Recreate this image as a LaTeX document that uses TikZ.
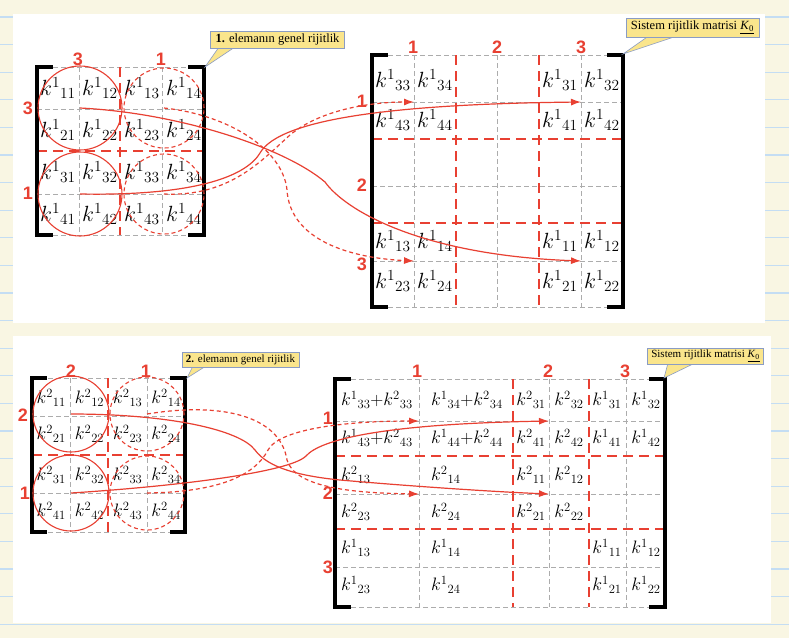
\RequirePackage{fix-cm}
\documentclass[tikz,border=0pt]{standalone}
\usepackage{fontspec}
\newfontfamily\labfont{Liberation Sans}
\newfontfamily\notefont{Liberation Serif}
\usetikzlibrary{arrows.meta}
\definecolor{kred}{RGB}{232,64,50}
\definecolor{paper}{RGB}{249,246,227}
\definecolor{ruleblue}{RGB}{196,221,243}
\definecolor{notefill}{RGB}{250,229,140}
\definecolor{noteedge}{RGB}{138,156,196}
\newcommand{\kij}[2]{k^{#1}{}_{#2}}

\begin{document}
\begin{tikzpicture}
  [x=1pt,y=-1pt,
   gridline/.style={draw=gray!65,line width=0.9pt,dash pattern=on 5pt off 3pt},
   blockline/.style={draw=kred,line width=1.8pt,dash pattern=on 10pt off 6pt},
   mbracket/.style={draw=black,line width=4pt},
   ring/.style={circle,draw=kred,line width=1.1pt,inner sep=0pt},
   dring/.style={ring,dash pattern=on 4pt off 3pt},
   entry/.style={inner sep=0pt,font=\fontsize{22}{24}\selectfont},
   sentry/.style={inner sep=0pt,font=\fontsize{18}{22}\selectfont},
   num/.style={inner sep=0pt,text=kred,font=\labfont\bfseries\fontsize{18}{18}\selectfont},
   note/.style={draw=noteedge,fill=notefill,line width=0.6pt,inner xsep=5pt,inner ysep=3pt,font=\notefont\fontsize{12.5}{14}\selectfont},
   snote/.style={note,inner xsep=4pt,inner ysep=2.5pt,font=\notefont\fontsize{11}{12}\selectfont},
   tip/.style={draw=noteedge,fill=notefill,line width=0.6pt},
   flow/.style={draw=kred,line width=1.2pt,-{Latex[length=10pt,width=7pt]}},
   dflow/.style={flow,dash pattern=on 4pt off 3pt}]

  \useasboundingbox (0,0) rectangle (789,638);
  \fill[paper] (0,0) rectangle (789,638);
  \foreach \i in {0,...,22}
    \draw[ruleblue,line width=1.2pt] (0,{17+27.6*\i}) -- (789,{17+27.6*\i});
  \fill[white] (13,14) rectangle (765,323);
  \fill[white] (13,336) rectangle (771,623);

  % element 1
  \foreach \x in {79,162} \draw[gridline] (\x,67) -- (\x,235);
  \foreach \y in {67,109,194,235} \draw[gridline] (37,\y) -- (204,\y);
  \draw[blockline] (120,67) -- (120,235);
  \draw[blockline] (37,151) -- (204,151);
  \draw[mbracket] (53,67) -- (37,67) -- (37,235) -- (53,235);
  \draw[mbracket] (188,67) -- (204,67) -- (204,235) -- (188,235);
  \foreach \i in {1,...,4}
    \foreach \j in {1,...,4}
      \node[entry] (a\i\j) at ({16+42*\j},{46+42*\i}) {$\kij{1}{\i\j}$};
  \node[ring,minimum size=84pt] (p33) at (80,108) {};
  \node[ring,minimum size=84pt] (p13) at (80,194) {};
  \node[dring,minimum size=80pt] (p31) at (164,108) {};
  \node[dring,minimum size=80pt] (p11) at (164,194) {};
  \node[num] (ea1) at (78,59) {3};
  \node[num] (ea2) at (161,59) {1};
  \node[num] (ea3) at (28,108) {3};
  \node[num] (ea4) at (28,193) {1};
  \filldraw[tip] (219,47) -- (205,67) -- (235,47);
  \node[note] (note1) at (277.5,39.5) {\textbf{1.} elemanın genel rijitlik};

  % system 1
  \foreach \x in {414,497,581} \draw[gridline] (\x,55) -- (\x,307);
  \foreach \y in {55,102,186,261,307} \draw[gridline] (372,\y) -- (623,\y);
  \foreach \x in {456,539} \draw[blockline] (\x,55) -- (\x,307);
  \foreach \y in {139,223} \draw[blockline] (372,\y) -- (623,\y);
  \draw[mbracket] (388,55) -- (372,55) -- (372,307) -- (388,307);
  \draw[mbracket] (607,55) -- (623,55) -- (623,307) -- (607,307);
  \foreach \x/\y/\s in {393/80/33,435/80/34,560/80/31,602/80/32,
                        393/120/43,435/120/44,560/120/41,602/120/42,
                        393/241/13,435/241/14,560/241/11,602/241/12,
                        393/281/23,435/281/24,560/281/21,602/281/22}
    \node[entry] (b\s) at (\x,\y) {$\kij{1}{\s}$};
  \foreach \x/\t [count=\n] in {413/1,497/2,581/3}
    \node[num] (sa\n) at (\x,47) {\t};
  \foreach \y/\t [count=\n] in {101/1,185/2,264/3}
    \node[num] (sb\n) at (362,\y) {\t};
  \filldraw[tip] (650,35) -- (623,54) -- (680,35);
  \node[note] (note2) at (692.5,27.5) {Sistem rijitlik matrisi \underline{\textit{K}\textsubscript{0}}};
  \coordinate (t11) at (414,102);
  \coordinate (t13) at (581,102);
  \coordinate (t31) at (414,261);
  \coordinate (t33) at (581,261);

  \draw[flow] (p33.center) .. controls (180,113) and (285,148) .. (325,182)
    .. controls (345,210) and (420,255) .. (t33);
  \draw[flow] (p13.center) .. controls (190,196) and (245,178) .. (260,153)
    .. controls (280,118) and (400,104) .. (t13);
  \draw[dflow] (p31.center) .. controls (230,115) and (283,150) .. (287,190)
    .. controls (290,240) and (350,258) .. (t31);
  \draw[dflow] (p11.center) .. controls (230,197) and (262,160) .. (290,135)
    .. controls (320,110) and (370,102) .. (t11);

  % element 2
  \foreach \x in {70,147} \draw[gridline] (\x,378) -- (\x,532);
  \foreach \y in {378,416,493,532} \draw[gridline] (32,\y) -- (185,\y);
  \draw[blockline] (108,378) -- (108,532);
  \draw[blockline] (32,455) -- (185,455);
  \draw[mbracket] (47,378) -- (32,378) -- (32,532) -- (47,532);
  \draw[mbracket] (170,378) -- (185,378) -- (185,532) -- (170,532);
  \foreach \i/\y in {1/398,2/434,3/475,4/511}
    \foreach \j in {1,...,4}
      \node[sentry] (c\i\j) at ({12.85+38.3*\j},\y) {$\kij{2}{\i\j}$};
  \node[ring,minimum size=76pt] (q22) at (71,414) {};
  \node[ring,minimum size=76pt] (q12) at (71,493) {};
  \node[dring,minimum size=74pt] (q21) at (147,414) {};
  \node[dring,minimum size=74pt] (q11) at (147,493) {};
  \node[num] (eb1) at (71,371) {2};
  \node[num] (eb2) at (146,371) {1};
  \node[num] (eb3) at (23,415) {2};
  \node[num] (eb4) at (25,493) {1};
  \filldraw[tip] (193,366) -- (187,378) -- (206,366);
  \node[snote] (note3) at (240.5,360) {\textbf{2.} elemanın genel rijitlik};

  % system 2
  \foreach \x in {419,549,626} \draw[gridline] (\x,379) -- (\x,607);
  \foreach \y in {379,421,494,567,607} \draw[gridline] (335,\y) -- (665,\y);
  \foreach \x in {513,589} \draw[blockline] (\x,379) -- (\x,607);
  \foreach \y in {456,529} \draw[blockline] (335,\y) -- (665,\y);
  \draw[mbracket] (351,379) -- (335,379) -- (335,607) -- (351,607);
  \draw[mbracket] (649,379) -- (665,379) -- (665,607) -- (649,607);
  \foreach \y/\s in {400/33,438/43}
    \node[sentry,anchor=west] (dl\s) at (341,\y) {$\kij{1}{\s}{+}\kij{2}{\s}$};
  \foreach \y/\s in {400/34,438/44}
    \node[sentry,anchor=west] (dr\s) at (431,\y) {$\kij{1}{\s}{+}\kij{2}{\s}$};
  \foreach \x/\y/\e/\s in {341/475/2/13,341/512/2/23,341/548/1/13,341/585/1/23,
                          431/475/2/14,431/512/2/24,431/548/1/14,431/585/1/24}
    \node[sentry,anchor=west] (d\e\s) at (\x,\y) {$\kij{\e}{\s}$};
  \foreach \x/\y/\e/\s in {531/400/2/31,569/400/2/32,607/400/1/31,646/400/1/32,
                          531/438/2/41,569/438/2/42,607/438/1/41,646/438/1/42,
                          531/475/2/11,569/475/2/12,531/512/2/21,569/512/2/22,
                          607/548/1/11,646/548/1/12,607/585/1/21,646/585/1/22}
    \node[sentry] (d\e\s) at (\x,\y) {$\kij{\e}{\s}$};
  \foreach \x/\t [count=\n] in {417/1,548/2,625/3}
    \node[num] (sc\n) at (\x,371) {\t};
  \foreach \y/\t [count=\n] in {418/1,493/2,567/3}
    \node[num] (sd\n) at (328,\y) {\t};
  \filldraw[tip] (668,363) -- (664,378) -- (695,363);
  \node[snote] (note4) at (705.5,356) {Sistem rijitlik matrisi \underline{\textit{K}\textsubscript{0}}};
  \coordinate (u11) at (419,421);
  \coordinate (u12) at (549,421);
  \coordinate (u21) at (419,494);
  \coordinate (u22) at (549,494);

  \draw[flow] (q22.center) .. controls (170,414) and (240,430) .. (255,450)
    .. controls (268,468) and (300,476) .. (340,480)
    .. controls (420,487) and (500,492) .. (u22);
  \draw[flow] (q12.center) .. controls (180,486) and (290,472) .. (306,456)
    .. controls (320,440) and (380,424) .. (u12);
  \draw[dflow] (q21.center) .. controls (220,402) and (280,415) .. (287,460)
    .. controls (295,487) and (350,493) .. (u21);
  \draw[dflow] (q11.center) .. controls (220,492) and (255,475) .. (268,450)
    .. controls (280,428) and (350,421) .. (u11);
\end{tikzpicture}
\end{document}
